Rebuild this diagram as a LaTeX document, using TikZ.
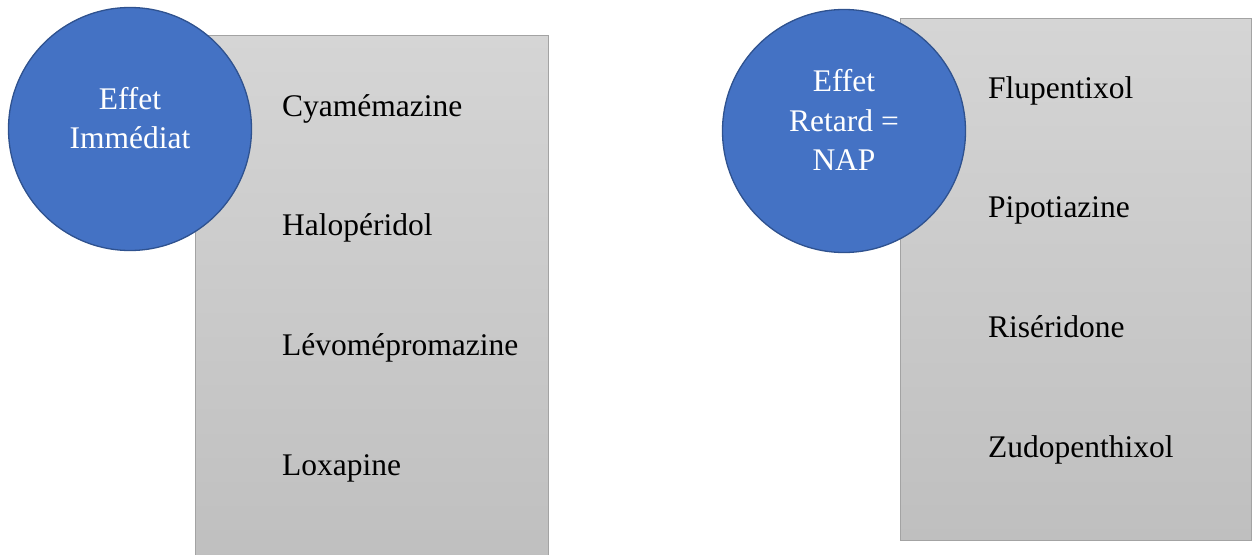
\documentclass[tikz,border=0pt]{standalone}
\usepackage{fontspec}
\setmainfont{Liberation Serif}
\usetikzlibrary{positioning}

\definecolor{boxtop}{HTML}{D5D5D5}
\definecolor{boxbot}{HTML}{BFBFBF}
\definecolor{boxline}{HTML}{A3A3A3}
\definecolor{bubblefill}{HTML}{4472C4}
\definecolor{bubbleline}{HTML}{2F528F}

\tikzset{
  listbox/.style={draw=boxline, line width=1.2pt, top color=boxtop, bottom color=boxbot,
    shading angle=0, rectangle, inner sep=0pt, anchor=north west},
  bubble/.style={circle, draw=bubbleline, line width=1.3pt, fill=bubblefill,
    minimum size=243pt, inner sep=0pt},
  bubbletext/.style={text=white, align=center, font=\fontsize{31.5}{39.5}\selectfont, inner sep=0pt},
  drug/.style={anchor=base west, inner sep=0pt, font=\fontsize{31.5}{38}\selectfont}
}

\begin{document}
\begin{tikzpicture}[x=1pt, y=-1pt]
    \useasboundingbox (0,0) rectangle (1252,554);
    \clip (0,0) rectangle (1252,554);

    % Left group: immediate effect
    \node[listbox, minimum width=353pt, minimum height=530pt] (immbox) at (195,35) {};
    \node[bubble] (imm) at (130,129) {};
    \node[bubbletext] (immtext) at (130,118) {Effet\\Immédiat};
    \foreach \name [count=\i from 0] in {Cyamémazine, Halopéridol, Lévomépromazine, Loxapine} {
      \node[drug] (imm-\i) at (282,116+119.7*\i) {\name};
    }

    % Right group: delayed effect (NAP)
    \node[listbox, minimum width=351pt, minimum height=522pt] (napbox) at (900,18) {};
    \node[bubble] (nap) at (844,131) {};
    \node[bubbletext] (naptext) at (844,120) {Effet\\Retard =\\NAP};
    \foreach \name [count=\i from 0] in {Flupentixol, Pipotiazine, Riséridone, Zudopenthixol} {
      \node[drug] (nap-\i) at (988,98+119.7*\i) {\name};
    }
\end{tikzpicture}
\end{document}
